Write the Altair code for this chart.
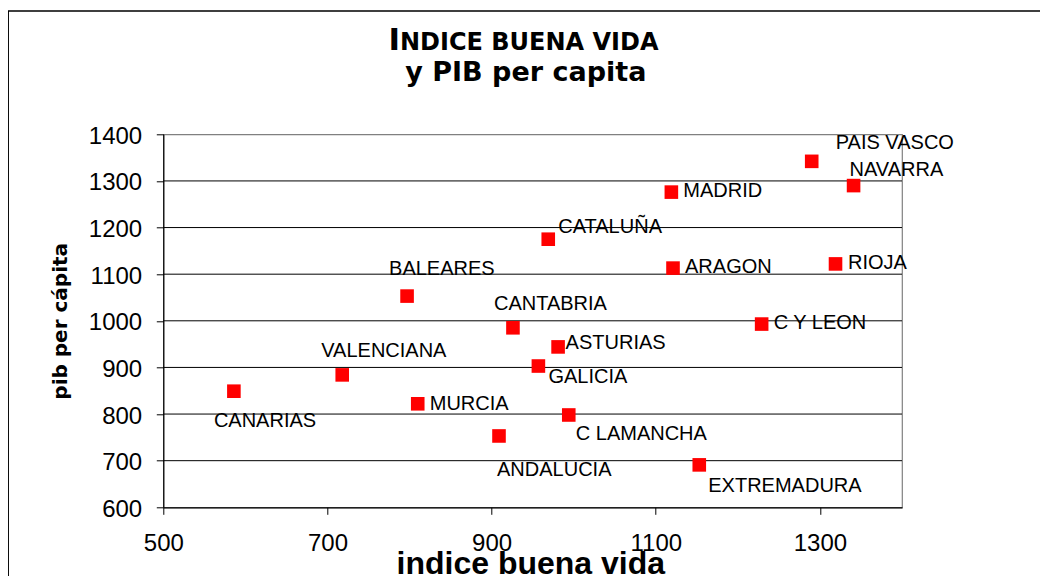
import altair as alt
import pandas as pd

# ---------------- data ----------------
REGIONS = ["CANARIAS", "VALENCIANA", "BALEARES", "MURCIA", "ANDALUCIA",
           "CANTABRIA", "GALICIA", "CATALUÑA", "ASTURIAS", "C LAMANCHA",
           "MADRID", "ARAGON", "EXTREMADURA", "C Y LEON", "PAIS VASCO",
           "RIOJA", "NAVARRA"]
INDICE = [586, 718, 797, 810, 909, 926, 957, 969, 981, 994,
          1119, 1121, 1153, 1229, 1290, 1319, 1341]
PIB = [849, 884, 1053, 822, 753, 985, 903, 1175, 944, 798,
       1276, 1113, 691, 993, 1342, 1122, 1290]

X_TICKS = [500, 700, 900, 1100, 1300]
Y_TICKS = [600, 700, 800, 900, 1000, 1100, 1200, 1300, 1400]
GRID_LINES = [700, 800, 900, 1000, 1100, 1200, 1300]

TITLE_INITIAL = ["I"]
TITLE_REST = ["NDICE BUENA VIDA"]
SUBTITLE = ["y PIB per capita"]
X_TITLE = "indice buena vida"
Y_TITLE = "pib per cápita"

# label placement (pixel offsets from the marker: left edge, baseline)
LABEL_OFFSETS = {
    "CANARIAS": (-20, 36), "VALENCIANA": (-21, -18), "BALEARES": (-18, -21),
    "MURCIA": (12, 6), "ANDALUCIA": (-2, 40), "CANTABRIA": (-19, -18),
    "GALICIA": (10, 17), "CATALUÑA": (10, -6), "ASTURIAS": (7.5, 2),
    "C LAMANCHA": (7, 25), "MADRID": (12, 5), "ARAGON": (12, 5),
    "EXTREMADURA": (9, 27), "C Y LEON": (12, 5), "PAIS VASCO": (24, -12),
    "RIOJA": (12.5, 5), "NAVARRA": (-4, -10),
}

df = pd.DataFrame({"region": REGIONS, "indice": INDICE, "pib": PIB})

FONT = "Liberation Sans"
TFONT = "DejaVu Sans"
W, H = 738.7, 373

x_scale = alt.Scale(domain=[500, 1400], nice=False, zero=False)
y_scale = alt.Scale(domain=[600, 1400], nice=False, zero=False)

x_axis = alt.Axis(values=X_TICKS, title=X_TITLE, grid=False, format="d",
                  domainColor="#000000", domainWidth=1.2,
                  tickColor="#000000", tickSize=7, tickWidth=1,
                  labelFont=FONT, labelFontSize=24, labelColor="#000000",
                  labelPadding=17, labelFlush=False,
                  titleFont=FONT, titleFontSize=32, titleFontWeight="bold",
                  titleColor="#000000", titleX=367, titleY=66,
                  titleBaseline="alphabetic", titleAlign="center")
y_axis = alt.Axis(values=Y_TICKS, title=Y_TITLE, grid=False, format="d",
                  domainColor="#000000", domainWidth=1.2,
                  tickColor="#000000", tickSize=7, tickWidth=1,
                  labelFont=FONT, labelFontSize=24, labelColor="#000000",
                  labelPadding=14.6, labelOffset=2, labelFlush=False,
                  titleFont=TFONT, titleFontSize=20, titleFontWeight="bold",
                  titleColor="#000000", titleAngle=270, titleX=-97.3,
                  titleY=H / 2, titleBaseline="alphabetic", titleAlign="center")

x_enc = alt.X("indice:Q", scale=x_scale, axis=x_axis)
y_enc = alt.Y("pib:Q", scale=y_scale, axis=y_axis)

frame = alt.Chart(pd.DataFrame({"a": [0]})).mark_rect(
    fillOpacity=0, stroke="#000000", strokeWidth=1.5
).encode(x=alt.value(-155.1), y=alt.value(-123.3),
         x2=alt.value(900), y2=alt.value(520))

grid = alt.Chart(pd.DataFrame({"pib": GRID_LINES})).mark_rule(
    color="#000000", strokeWidth=1
).encode(y=y_enc)

points = alt.Chart(df).mark_square(
    size=185, color="#ff0000", opacity=1
).encode(x=x_enc, y=y_enc)

labels = []
for name in REGIONS:
    dx, dy = LABEL_OFFSETS[name]
    labels.append(
        alt.Chart(df).transform_filter(alt.datum.region == name).mark_text(
            align="left", baseline="alphabetic", dx=dx, dy=dy,
            font=FONT, fontSize=20, color="#000000"
        ).encode(x=x_enc, y=y_enc, text="region:N")
    )

t1 = alt.Chart(pd.DataFrame({"t": TITLE_INITIAL})).mark_text(
    align="left", baseline="alphabetic", font=TFONT, fontSize=31,
    fontWeight="bold", color="#000000"
).encode(x=alt.value(225.2), y=alt.value(-84.3), text="t:N")
t2 = alt.Chart(pd.DataFrame({"t": TITLE_REST})).mark_text(
    align="left", baseline="alphabetic", font=TFONT, fontSize=24,
    fontWeight="bold", color="#000000"
).encode(x=alt.value(236.7), y=alt.value(-84.3), text="t:N")
t3 = alt.Chart(pd.DataFrame({"t": SUBTITLE})).mark_text(
    align="center", baseline="alphabetic", font=TFONT, fontSize=27,
    fontWeight="bold", color="#000000"
).encode(x=alt.value(362.5), y=alt.value(-53.6), text="t:N")

chart = alt.layer(frame, grid, points, *labels, t1, t2, t3).properties(
    width=W, height=H,
    padding={"left": 155.3, "top": 126.3, "right": 138, "bottom": 68.7},
    autosize=alt.AutoSizeParams(type="none"),
    background="#ffffff",
).configure_view(stroke="#808080", strokeWidth=1.2)

chart.save("out.html", embed_options={"renderer": "svg", "actions": False})
